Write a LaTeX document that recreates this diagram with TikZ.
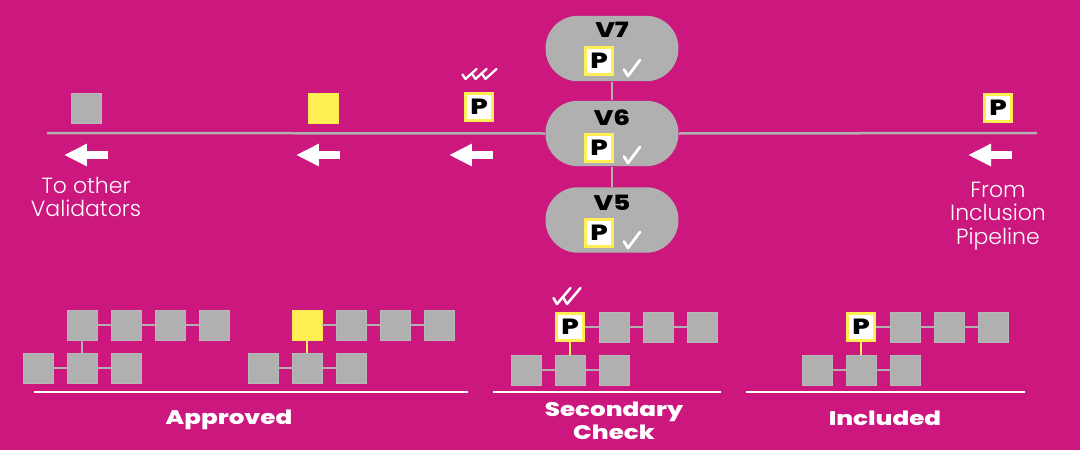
\documentclass[tikz,border=0pt]{standalone}
\usepackage{fontspec}
\usetikzlibrary{positioning, arrows.meta}
\definecolor{Magenta}{HTML}{CB177E}
\definecolor{BlockGray}{HTML}{B0B0B0}
\definecolor{BlockYellow}{HTML}{FFEF55}
\newfontfamily\headfont{Poppins}[FakeStretch=1.25, BoldFont=* ExtraBold]
\newfontfamily\lightfont{Poppins}[UprightFont=* Light]

\begin{document}
\begin{tikzpicture}[
  x=0.02cm, y=-0.02cm,
  pill/.style={fill=BlockGray, minimum width=2.66cm, minimum height=1.31cm, rounded corners=0.65cm, inner sep=0pt},
  vlbl/.style={font=\headfont\bfseries\fontsize{12}{12}\selectfont, text=black, inner sep=0pt},
  blk/.style={fill=BlockGray, draw=BlockGray!90!white, minimum size=0.6cm, inner sep=0pt},
  ylw/.style={blk, fill=BlockYellow, draw=BlockYellow},
  pbox/.style={fill=white, draw=BlockYellow, line width=0.06cm, minimum size=0.54cm, inner sep=0pt,
    font=\headfont\bfseries\fontsize{12.5}{12.5}\selectfont, text=black},
  link/.style={draw=BlockGray, line width=0.05cm},
  ylink/.style={draw=BlockYellow, line width=0.05cm},
  flow/.style={draw=white, line width=0.16cm, -{Triangle[length=0.46cm, width=0.42cm]}},
  base/.style={draw=white, line width=0.05cm},
  lbl/.style={font=\lightfont\fontsize{12.5}{13.4}\selectfont, text=white, align=center},
  head/.style={font=\headfont\bfseries\fontsize{11.2}{13}\selectfont, text=white, align=center},
  chk/.pic={\draw[white, line width=0.055cm, line cap=round, line join=round]
    (-0.16cm,-0.03cm) -- (-0.08cm,-0.16cm) -- (0.16cm,0.16cm);},
  mchk/.pic={\draw[white, line width=0.045cm, line cap=round, line join=round]
    (-0.13cm,-0.01cm) -- (-0.07cm,-0.1cm) -- (0.15cm,0.1cm);},
  dchk/.pic={\draw[white, line width=0.05cm, line cap=round, line join=round]
    (-0.17cm,-0.04cm) -- (-0.1cm,-0.16cm) -- (0.17cm,0.16cm);},
]
  % background
  \fill[Magenta] (0,0) rectangle (1080,450);
  \useasboundingbox (0,0) rectangle (1080,450);

  % validators
  \node[pill] (v7) at (612,48.5) {};
  \node[pill] (v6) at (612,133.5) {};
  \node[pill] (v5) at (612,220) {};
  \coordinate (lineL) at (47,133);
  \coordinate (lineR) at (1037,133);
  \draw[link] (lineL) -- (v6.west);
  \draw[link] (v6.east) -- (lineR);
  \draw[link] (v7.south) -- (v6.north);
  \draw[link] (v6.south) -- (v5.north);

  \node[vlbl] (v7n) at (612,30) {V7};
  \node[pbox] (v7p) at (599,61) {P};
  \pic at (632,68) {chk};
  \node[vlbl] (v6n) at (612,118) {V6};
  \node[pbox] (v6p) at (599,148) {P};
  \pic at (632,155) {chk};
  \node[vlbl] (v5n) at (612,203) {V5};
  \node[pbox] (v5p) at (599,233) {P};
  \pic at (632,240) {chk};

  % packets on the line
  \node[blk] (pk1) at (86,108) {};
  \node[ylw] (pk2) at (323,108) {};
  \node[pbox] (pk3) at (479,107) {P};
  \node[pbox] (pk4) at (998,108) {P};
  \pic at (469,74) {mchk};
  \pic at (479,74) {mchk};
  \pic at (489,74) {mchk};

  % flow arrows
  \coordinate (a1s) at (108,155); \coordinate (a1e) at (64,155);
  \coordinate (a2s) at (340,155); \coordinate (a2e) at (296,155);
  \coordinate (a3s) at (493,155); \coordinate (a3e) at (449,155);
  \coordinate (a4s) at (1012,155); \coordinate (a4e) at (968,155);
  \draw[flow] (a1s) -- (a1e);
  \draw[flow] (a2s) -- (a2e);
  \draw[flow] (a3s) -- (a3e);
  \draw[flow] (a4s) -- (a4e);

  \node[lbl] (toval) at (86,197) {To other\\Validators};
  \node[lbl] (fromip) at (998,216) {From\\Inclusion\\Pipeline};

  % Approved chains
  \foreach \n/\x in {1/82, 2/126, 3/170, 4/214} \node[blk] (a\n) at (\x,325) {};
  \foreach \n/\x in {1/38, 2/82, 3/126} \node[blk] (b\n) at (\x,368) {};
  \draw[link] (a1) -- (a2) (a2) -- (a3) (a3) -- (a4) (b1) -- (b2) (b2) -- (b3) (a1) -- (b2);

  \node[ylw] (c1) at (307,325) {};
  \foreach \n/\x in {2/351, 3/395, 4/439} \node[blk] (c\n) at (\x,325) {};
  \foreach \n/\x in {1/263, 2/307, 3/351} \node[blk] (d\n) at (\x,368) {};
  \draw[link] (c1) -- (c2) (c2) -- (c3) (c3) -- (c4) (d1) -- (d2) (d2) -- (d3);
  \draw[ylink] (c1) -- (d2);

  % Secondary check chain
  \node[pbox] (e1) at (570,327) {P};
  \foreach \n/\x in {2/614, 3/658, 4/702} \node[blk] (e\n) at (\x,327) {};
  \foreach \n/\x in {1/526, 2/570, 3/614} \node[blk] (f\n) at (\x,370) {};
  \draw[link] (e1) -- (e2) (e2) -- (e3) (e3) -- (e4) (f1) -- (f2) (f2) -- (f3);
  \draw[ylink] (e1) -- (f2);
  \pic at (562,296) {dchk};
  \pic at (572,296) {dchk};

  % Included chain
  \node[pbox] (g1) at (861,327) {P};
  \foreach \n/\x in {2/905, 3/949, 4/993} \node[blk] (g\n) at (\x,327) {};
  \foreach \n/\x in {1/817, 2/861, 3/905} \node[blk] (h\n) at (\x,370) {};
  \draw[link] (g1) -- (g2) (g2) -- (g3) (g3) -- (g4) (h1) -- (h2) (h2) -- (h3);
  \draw[ylink] (g1) -- (h2);

  % stage bases
  \coordinate (u1l) at (34,392); \coordinate (u1r) at (468,392);
  \coordinate (u2l) at (493,392); \coordinate (u2r) at (721,392);
  \coordinate (u3l) at (746,392); \coordinate (u3r) at (1025,392);
  \draw[base] (u1l) -- (u1r);
  \draw[base] (u2l) -- (u2r);
  \draw[base] (u3l) -- (u3r);
  \node[head] (approved) at (229,420) {Approved};
  \node[head] (secondary) at (614,421) {Secondary\\Check};
  \node[head] (included) at (885,418) {Included};
\end{tikzpicture}
\end{document}
